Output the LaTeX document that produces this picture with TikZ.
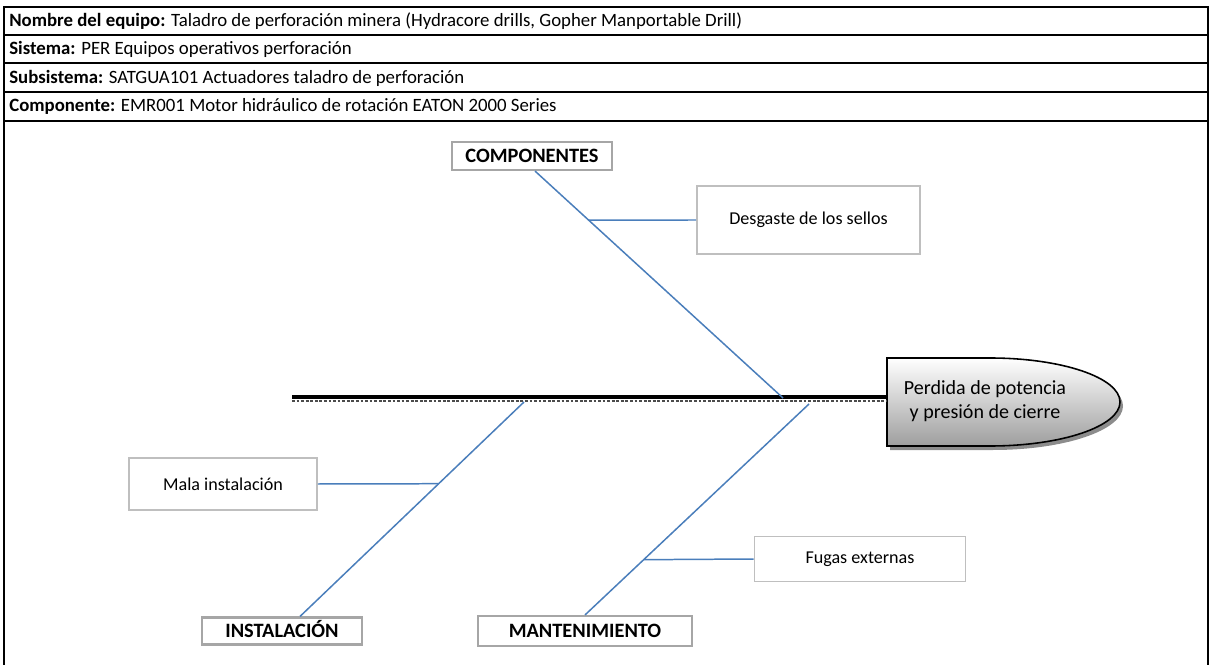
\documentclass[tikz,border=0pt]{standalone}
\usepackage{fontspec}
\setmainfont{Carlito}
\usepackage{xcolor}
\usepackage{tikz}
\usetikzlibrary{calc, positioning}
\definecolor{branchblue}{HTML}{4A7EBB}
\definecolor{boxgray}{HTML}{BFBFBF}
\definecolor{catgray}{HTML}{A6A6A6}
\tikzset{
  rowtext/.style={anchor=west, inner sep=0pt, font=\fontsize{10.7}{12}\selectfont},
  causebox/.style={draw=boxgray, line width=0.9pt, fill=white, font=\fontsize{10.3}{12}\selectfont, inner sep=0pt},
  catbox/.style={draw=catgray, line width=1.2pt, fill=white, font=\bfseries\fontsize{11.6}{13}\selectfont, inner sep=0pt},
  bone/.style={draw=branchblue, line width=0.85pt},
}

\begin{document}
\begin{tikzpicture}[x=0.02cm, y=-0.02cm]
  \useasboundingbox (0,0) rectangle (1210,665);
  % frame and header rows
  \draw[line width=0.6pt] (4,665)--(4,7)--(1208,7)--(1208,665);
  \foreach \y in {35,63,92,121}
    \draw[line width=1.2pt] (4,\y)--(1208,\y);
  \node[rowtext] (equipo) at (9,21) {\textbf{Nombre del equipo:} Taladro de perforación minera (Hydracore drills, Gopher Manportable Drill)};
  \node[rowtext] (sistema) at (9,49) {\textbf{Sistema:} PER Equipos operativos perforación};
  \node[rowtext] (subsistema) at (9,78) {\textbf{Subsistema:} SATGUA101 Actuadores taladro de perforación};
  \node[rowtext] (componente) at (9,106) {\textbf{Componente:} EMR001 Motor hidráulico de rotación EATON 2000 Series};

  % head of the fish
  \fill[black!45] (890,362)--(993,362) arc[start angle=-90, end angle=90, x radius=130, y radius=44]--(890,450)--cycle;
  \draw[line width=0.9pt, top color=white, bottom color=black!38] (887,358)--(990,358) arc[start angle=-90, end angle=90, x radius=130, y radius=44]--(887,446)--cycle;
  \node[align=center, font=\fontsize{11.4}{13.5}\selectfont] (efecto) at (985,401) {Perdida de potencia\\y presión de cierre};

  % spine
  \coordinate (cola) at (292,397);
  \coordinate (cabeza) at (887,397);
  \coordinate (pc) at (783,398);
  \coordinate (pi) at (524,402);
  \coordinate (pm) at (809,404);
  \draw[black!70, densely dotted, line width=1.6pt] ($(cola)+(0,4)$)--($(cabeza)+(0,4)$);
  \draw[line width=2.4pt] (cola)--(cabeza);

  % categories and causes
  \node[catbox, minimum width=3.2cm, minimum height=0.56cm] (comp) at (532,156) {COMPONENTES};
  \node[catbox, minimum width=3.2cm, minimum height=0.54cm] (inst) at (282,631) {INSTALACIÓN\vphantom{g}};
  \node[catbox, minimum width=4.28cm, minimum height=0.6cm] (mant) at (585,631) {MANTENIMIENTO};
  \node[causebox, minimum width=4.46cm, minimum height=1.36cm] (desg) at (808.5,220) {Desgaste de los sellos};
  \node[causebox, minimum width=3.76cm, minimum height=1.04cm] (mala) at (223,484) {Mala instalación};
  \node[causebox, minimum width=4.22cm, minimum height=0.9cm] (fugas) at (860,559) {Fugas externas};

  \draw[bone] ([xshift=0.06cm]comp.south)--(pc);
  \draw[bone] ([xshift=0.36cm]inst.north)--(pi);
  \draw[bone] (mant.north)--(pm);
  \draw[bone] (desg.west)--($([xshift=0.06cm]comp.south)!0.216!(pc)$);
  \draw[bone] (mala.east)--($([xshift=0.36cm]inst.north)!0.619!(pi)$);
  \draw[bone] (fugas.west)--($(mant.north)!0.262!(pm)$);
\end{tikzpicture}
\end{document}
